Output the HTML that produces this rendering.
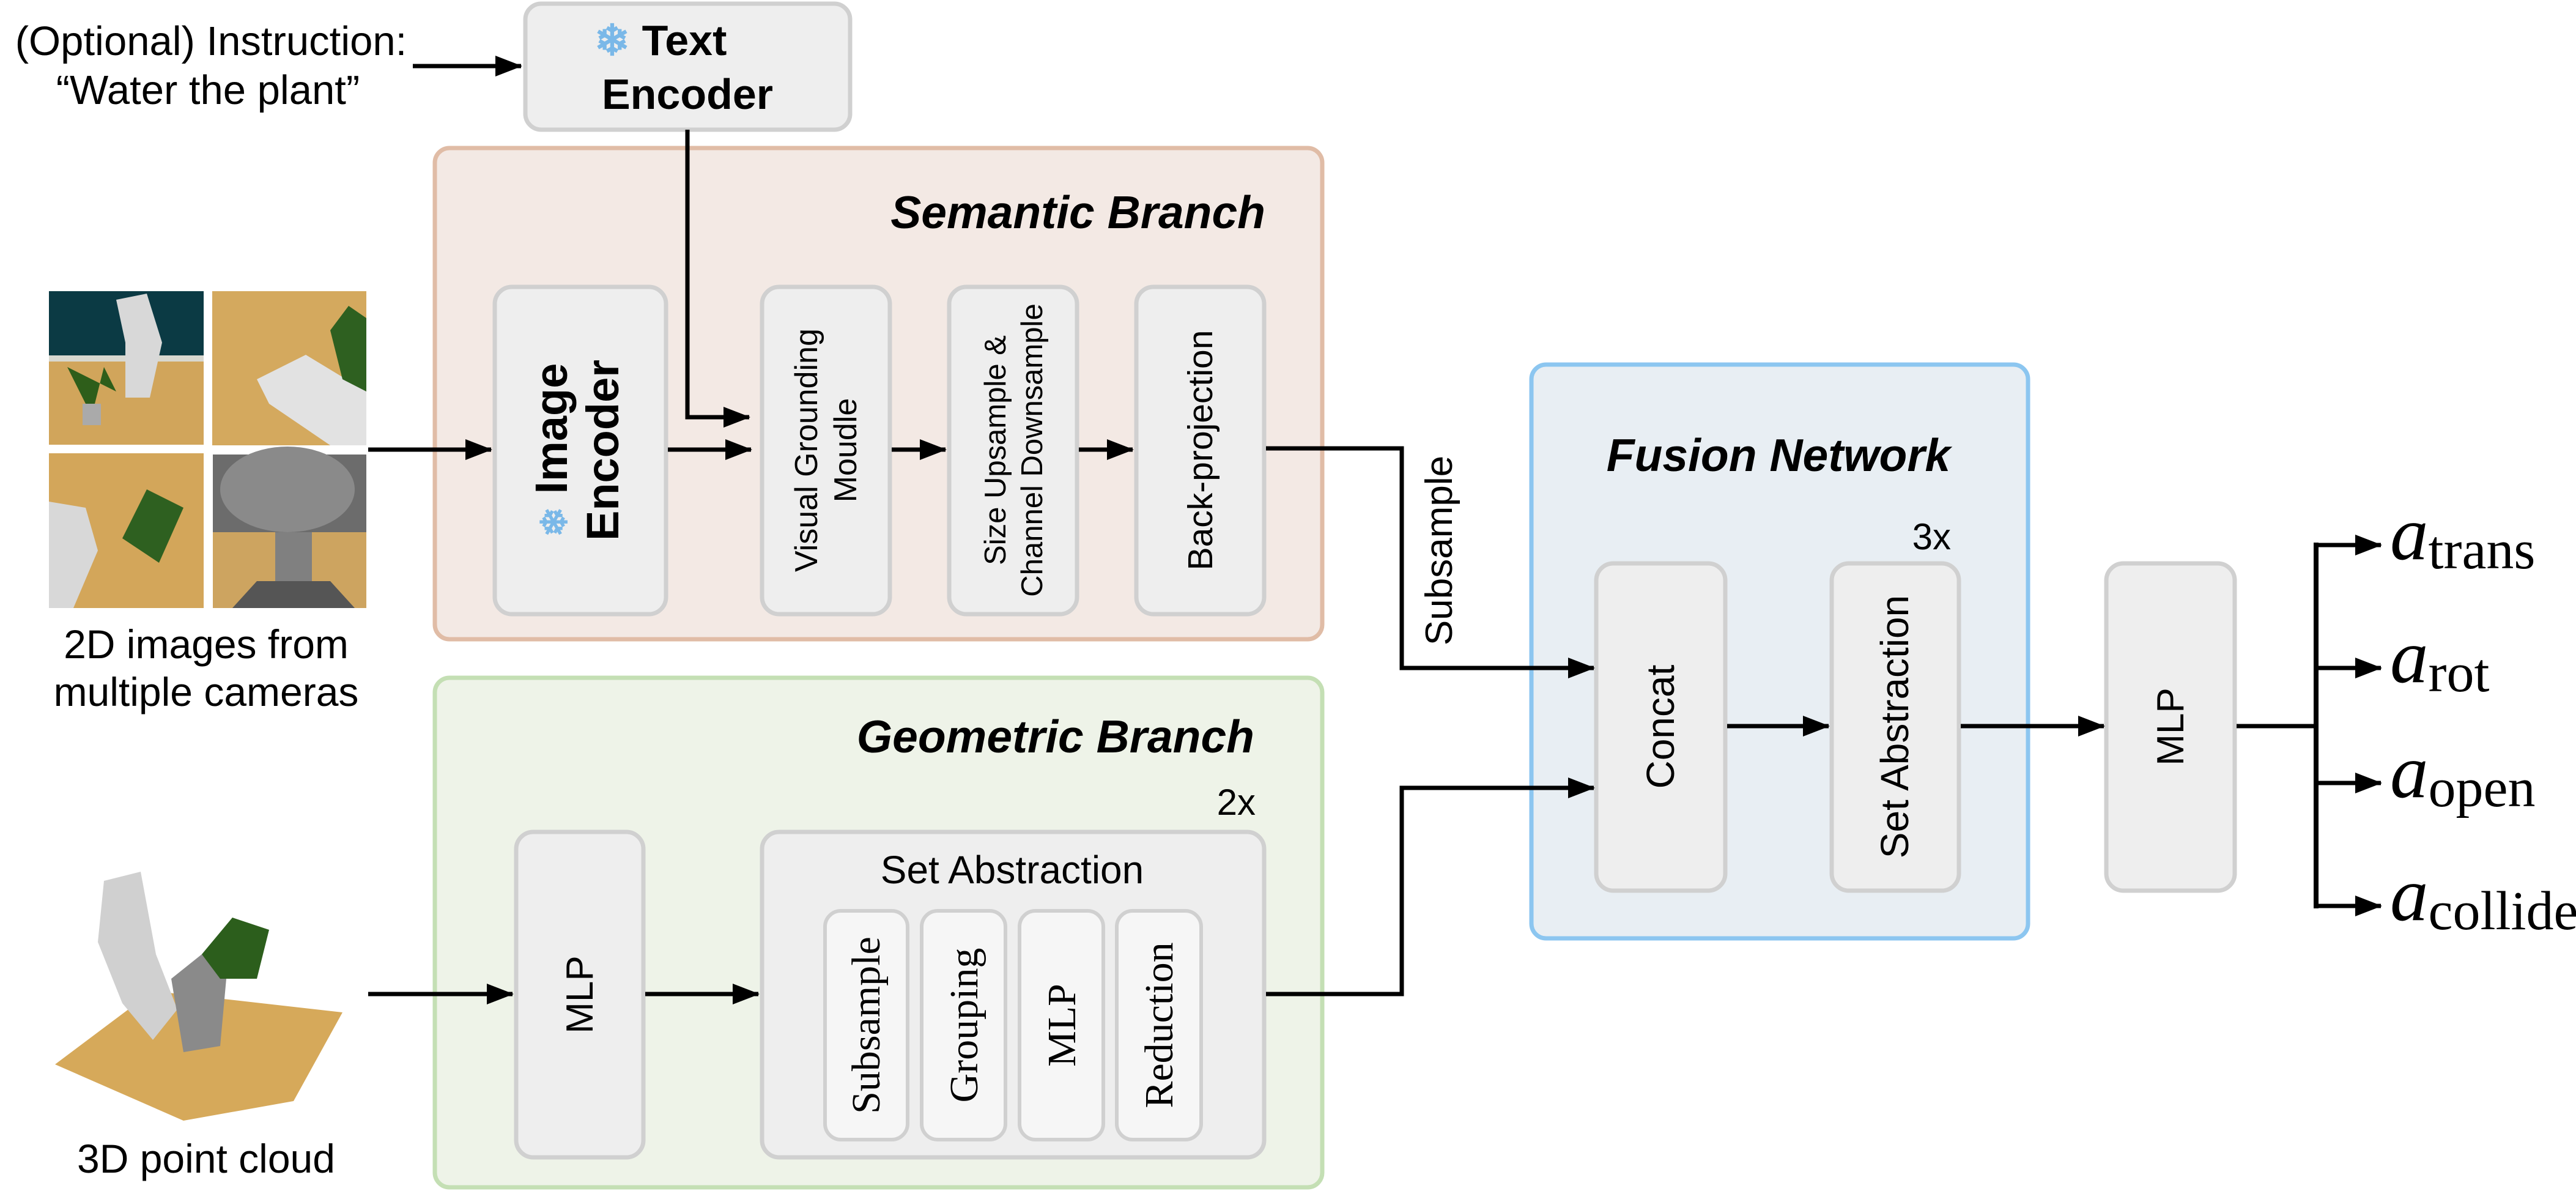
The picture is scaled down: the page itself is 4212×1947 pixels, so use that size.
<!DOCTYPE html>
<html><head><meta charset="utf-8"><style>
html,body{margin:0;padding:0;background:#fff;width:4212px;height:1947px;overflow:hidden}
svg{display:block}
.s{font-family:"Liberation Sans",sans-serif}
.r{font-family:"Liberation Serif",serif}
</style></head><body>
<svg width="4212" height="1947" viewBox="0 0 4212 1947" xmlns="http://www.w3.org/2000/svg">
<defs>
<marker id="ah" markerWidth="44" markerHeight="34" refX="42" refY="17" markerUnits="userSpaceOnUse" orient="auto">
<path d="M0,0 L44,17 L0,34 z" fill="#000"/></marker>
</defs>

<rect x="711" y="242" width="1451" height="803" rx="24" fill="#f3e9e4" stroke="#e0bca6" stroke-width="7"/>
<rect x="711" y="1108" width="1451" height="833" rx="24" fill="#eef3e8" stroke="#c4dfb4" stroke-width="7"/>
<rect x="2504" y="596" width="812" height="938" rx="24" fill="#e8eef3" stroke="#8cc6f0" stroke-width="7"/>

<rect x="859" y="6" width="531" height="206" rx="26" fill="#eeeeee" stroke="#d0d0d0" stroke-width="7"/>
<text x="1080" y="90" class="s" font-size="70" font-weight="bold" text-anchor="middle"><tspan fill="#7ab8e8">❄</tspan> Text</text>
<text x="1124" y="178" class="s" font-size="70" font-weight="bold" text-anchor="middle">Encoder</text>

<text x="345" y="90" class="s" font-size="67" text-anchor="middle">(Optional) Instruction:</text>
<text x="340" y="170" class="s" font-size="67" text-anchor="middle">“Water the plant”</text>
<line x1="675" y1="108" x2="852" y2="108" stroke="#000" stroke-width="7" marker-end="url(#ah)"/>

<text x="2069" y="373" class="s" font-size="75" font-weight="bold" font-style="italic" text-anchor="end">Semantic Branch</text>
<text x="2051" y="1230" class="s" font-size="75" font-weight="bold" font-style="italic" text-anchor="end">Geometric Branch</text>
<text x="2053" y="1332" class="s" font-size="60" text-anchor="end">2x</text>
<text x="2908" y="770" class="s" font-size="75" font-weight="bold" font-style="italic" text-anchor="middle">Fusion Network</text>
<text x="3190" y="898" class="s" font-size="60" text-anchor="end">3x</text>

<g>
<rect x="80" y="476" width="253" height="251" fill="#d1a55b"/>
<rect x="80" y="476" width="253" height="105" fill="#0b3a44"/>
<rect x="80" y="581" width="253" height="10" fill="#d8d8d0"/>
<path d="M190,490 L240,480 L265,560 L245,650 L205,650 L205,560 Z" fill="#d8d8d8"/>
<path d="M110,600 L150,680 L170,600 L190,640 Z" fill="#2e5e1a"/>
<rect x="135" y="660" width="30" height="35" fill="#aaa"/>
<rect x="347" y="476" width="252" height="252" fill="#d4a95e"/>
<path d="M420,620 L500,580 L599,640 L599,728 L540,728 L440,660 Z" fill="#e2e2e2"/>
<path d="M540,540 L570,500 L599,520 L599,640 L560,620 Z" fill="#2e6020"/>
<rect x="80" y="741" width="253" height="253" fill="#d3a65a"/>
<path d="M80,820 L140,830 L160,900 L120,994 L80,994 Z" fill="#d8d8d8"/>
<path d="M200,880 L240,800 L300,830 L260,920 Z" fill="#2e6020"/>
<rect x="348" y="743" width="251" height="251" fill="#cda460"/>
<path d="M348,743 L599,743 L599,870 L348,870 Z" fill="#6c6c6c"/>
<ellipse cx="470" cy="800" rx="110" ry="70" fill="#8a8a8a"/>
<rect x="450" y="870" width="60" height="124" fill="#808080"/>
<path d="M380,994 L420,950 L540,950 L580,994 Z" fill="#555"/>
</g>
<text x="337" y="1076" class="s" font-size="66" text-anchor="middle">2D images from</text>
<text x="337" y="1154" class="s" font-size="66" text-anchor="middle">multiple cameras</text>

<g>
<path d="M90,1740 L250,1620 L560,1655 L480,1800 L300,1832 Z" fill="#d6a95a"/>
<path d="M170,1440 L230,1425 L255,1560 L290,1650 L250,1700 L200,1640 L160,1540 Z" fill="#d0d0d0"/>
<path d="M280,1600 L330,1560 L370,1600 L360,1710 L300,1720 Z" fill="#8a8a8a"/>
<path d="M330,1560 L380,1500 L440,1520 L420,1600 L360,1600 Z" fill="#2c5e1c"/>
</g>
<text x="337" y="1917" class="s" font-size="66" text-anchor="middle">3D point cloud</text>

<g fill="#eeeeee" stroke="#d0d0d0" stroke-width="7">
<rect x="809" y="469" width="280" height="535" rx="28"/>
<rect x="1246" y="469" width="209" height="535" rx="28"/>
<rect x="1552" y="469" width="209" height="535" rx="28"/>
<rect x="1858" y="469" width="209" height="535" rx="28"/>
<rect x="844" y="1360" width="208" height="532" rx="28"/>
<rect x="1246" y="1360" width="821" height="532" rx="28"/>
<rect x="2610" y="921" width="211" height="535" rx="28"/>
<rect x="2995" y="921" width="208" height="535" rx="28"/>
<rect x="3444" y="921" width="210" height="535" rx="28"/>
</g>
<g fill="#f6f6f6" stroke="#d0d0d0" stroke-width="6">
<rect x="1349" y="1489" width="135" height="374" rx="26"/>
<rect x="1507" y="1489" width="137" height="374" rx="26"/>
<rect x="1667" y="1489" width="137" height="374" rx="26"/>
<rect x="1826" y="1489" width="138" height="374" rx="26"/>
</g>

<g class="s" text-anchor="middle">
<text transform="translate(949,736) rotate(-90)" font-size="74" font-weight="bold"><tspan x="0" y="-22"><tspan fill="#7ab8e8" font-size="60">❄</tspan> Image</tspan><tspan x="0" y="62">Encoder</tspan></text>
<text transform="translate(1350,736) rotate(-90)" font-size="52"><tspan x="0" y="-14">Visual Grounding</tspan><tspan x="0" y="50">Moudle</tspan></text>
<text transform="translate(1656,736) rotate(-90)" font-size="49"><tspan x="0" y="-12">Size Upsample &amp;</tspan><tspan x="0" y="48">Channel Downsample</tspan></text>
<text transform="translate(1982,736) rotate(-90)" font-size="57">Back-projection</text>
<text transform="translate(969,1626) rotate(-90)" font-size="62">MLP</text>
<text transform="translate(2737,1188) rotate(-90)" font-size="64">Concat</text>
<text transform="translate(3120,1188) rotate(-90)" font-size="64">Set Abstraction</text>
<text transform="translate(3570,1188) rotate(-90)" font-size="62">MLP</text>
<text transform="translate(2374,900) rotate(-90)" font-size="62">Subsample</text>
<text x="1655" y="1444" font-size="64">Set Abstraction</text>
</g>
<g class="r" text-anchor="middle" font-size="66">
<text transform="translate(1438,1676) rotate(-90)">Subsample</text>
<text transform="translate(1598,1676) rotate(-90)">Grouping</text>
<text transform="translate(1758,1676) rotate(-90)">MLP</text>
<text transform="translate(1917,1676) rotate(-90)">Reduction</text>
</g>

<g stroke="#000" stroke-width="7" fill="none">
<polyline points="1124,212 1124,682 1225,682" marker-end="url(#ah)"/>
<line x1="602" y1="735" x2="803" y2="735" marker-end="url(#ah)"/>
<line x1="1092" y1="735" x2="1228" y2="735" marker-end="url(#ah)"/>
<line x1="1458" y1="735" x2="1546" y2="735" marker-end="url(#ah)"/>
<line x1="1764" y1="735" x2="1852" y2="735" marker-end="url(#ah)"/>
<polyline points="2070,733 2292,733 2292,1092 2606,1092" marker-end="url(#ah)"/>
<line x1="602" y1="1625" x2="838" y2="1625" marker-end="url(#ah)"/>
<line x1="1055" y1="1625" x2="1240" y2="1625" marker-end="url(#ah)"/>
<polyline points="2070,1625 2292,1625 2292,1288 2606,1288" marker-end="url(#ah)"/>
<line x1="2824" y1="1187" x2="2990" y2="1187" marker-end="url(#ah)"/>
<line x1="3206" y1="1187" x2="3440" y2="1187" marker-end="url(#ah)"/>
<line x1="3657" y1="1187" x2="3787" y2="1187"/>
<line x1="3787" y1="887" x2="3787" y2="1485" stroke-width="8"/>
<line x1="3787" y1="891" x2="3893" y2="891" marker-end="url(#ah)"/>
<line x1="3787" y1="1092" x2="3893" y2="1092" marker-end="url(#ah)"/>
<line x1="3787" y1="1280" x2="3893" y2="1280" marker-end="url(#ah)"/>
<line x1="3787" y1="1481" x2="3893" y2="1481" marker-end="url(#ah)"/>
</g>

<g class="r">
<text x="3908" y="914" font-size="125" font-style="italic">a<tspan font-size="90" font-style="normal" dy="15">trans</tspan></text>
<text x="3908" y="1115" font-size="125" font-style="italic">a<tspan font-size="90" font-style="normal" dy="15">rot</tspan></text>
<text x="3908" y="1303" font-size="125" font-style="italic">a<tspan font-size="90" font-style="normal" dy="15">open</tspan></text>
<text x="3908" y="1504" font-size="125" font-style="italic">a<tspan font-size="90" font-style="normal" dy="15">collide</tspan></text>
</g>
</svg>
</body></html>
